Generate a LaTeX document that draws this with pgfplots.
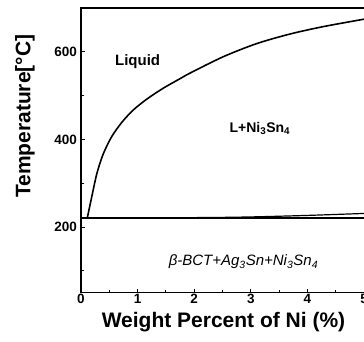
\documentclass[border=0pt]{standalone}
\usepackage{fontspec}
\setmainfont{Liberation Sans}
\usepackage{pgfplots}
\pgfplotsset{compat=1.18}
\begin{document}
\begin{tikzpicture}
\begin{axis}[
  scale only axis,
  width=300pt, height=284.4pt,
  xmin=0, xmax=5.3, ymin=50, ymax=700,
  xtick={0,1,2,3,4,5}, ytick={200,400,600},
  minor xtick={0.5,1.5,2.5,3.5,4.5},
  minor ytick={100,300,500,700},
  xtick pos=lower, ytick pos=left,
  tick align=inside,
  major tick length=4pt, minor tick length=3pt,
  every tick/.style={black, line width=1pt},
  axis line style={line width=1.5pt},
  /pgf/number format/assume math mode=true,
  tick label style={font=\fontsize{13.5}{15}\selectfont\bfseries},
  xticklabel style={inner sep=0pt, yshift=-1pt},
  yticklabel style={inner sep=0pt, xshift=-4pt},
  xlabel={\textbf{Weight Percent of Ni (\%)}},
  ylabel={\textbf{Temperature[°C]}},
  xlabel style={font=\fontsize{21}{24}\selectfont, at={(axis description cs:0.475,-0.122)}, anchor=base},
  ylabel style={font=\fontsize{21}{24}\selectfont, at={(axis description cs:-0.187,0.62)}, anchor=center, rotate=0},
  clip=false,
]
\addplot[black, line width=1.6pt, smooth] coordinates {
 (0.11,220) (0.19,269) (0.28,322) (0.39,366) (0.54,406) (0.72,439) (0.92,467)
 (1.16,492) (1.45,517) (1.75,539) (1.93,552) (2.51,589) (3.10,619) (3.69,641) (4.28,658) (5.0,675)};
\addplot[black, line width=1.5pt] coordinates {(0,221) (5,221)};
\addplot[black, line width=1.2pt, smooth] coordinates {(1.5,221) (2.5,222) (3.16,223.5) (4.05,226.7) (5,231)};
\node[font=\fontsize{15}{17}\selectfont\bfseries] at (axis cs:1.0,577) {Liquid};
\node[font=\fontsize{14}{16}\selectfont\bfseries] at (axis cs:3.16,426) {L+Ni\textsubscript{3}Sn\textsubscript{4}};
\node[font=\fontsize{15}{17}\selectfont\itshape] at (axis cs:2.87,120) {β-BCT+Ag\textsubscript{3}Sn+Ni\textsubscript{3}Sn\textsubscript{4}};
\coordinate (BL) at (axis cs:0,50);
\coordinate (TR) at (axis cs:5,700);
\end{axis}
\pgfresetboundingbox
\path[use as bounding box] ([xshift=-81pt,yshift=-48.4pt]BL) rectangle ([yshift=8.25pt]TR);
\end{tikzpicture}
\end{document}
